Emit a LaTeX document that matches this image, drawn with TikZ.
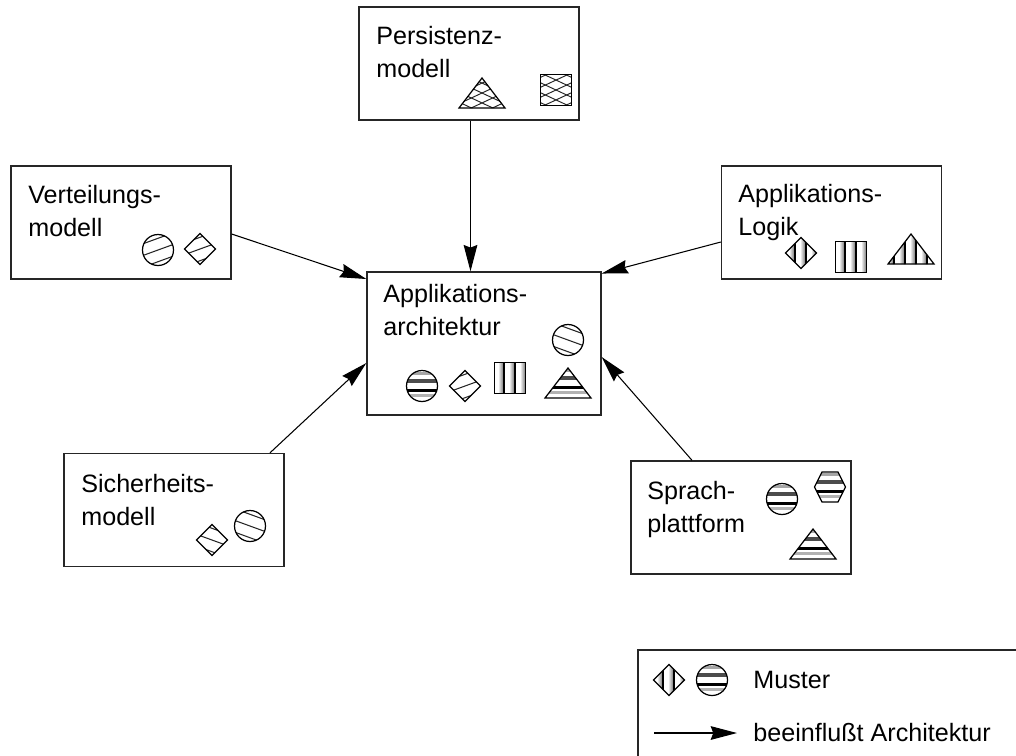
\documentclass[tikz,border=0pt]{standalone}
\usepackage{fontspec}
\setmainfont{Liberation Sans}
\usetikzlibrary{arrows.meta}
\tikzset{
    kasten/.style={draw=black!85, line width=0.8pt, minimum width=4.4cm, minimum height=2.26cm, inner sep=0pt},
    beschriftung/.style={anchor=north west, align=left, inner sep=0pt, font=\fontsize{14.3}{18.7}\selectfont},
    pfeil/.style={line width=0.6pt, -{Stealth[length=15pt, width=7.8pt, inset=1.5pt]}},
    form/.style={line width=0.7pt}
}
% Umrisse
\newcommand{\kreisform}{(0,0) circle (15.5)}
\newcommand{\rautenform}{(-15.5,0) -- (0,-15.5) -- (15.5,0) -- (0,15.5) -- cycle}
\newcommand{\quadratform}{(-15.5,-15.5) rectangle (15.5,15.5)}
\newcommand{\dreieckform}{(-23,15) -- (0,-15) -- (23,15) -- cycle}
\newcommand{\sechseckform}{(-15.5,0) -- (-8,-15) -- (8,-15) -- (15.5,0) -- (8,15) -- (-8,15) -- cycle}
% Fuellungen
\newcommand{\querfuell}{
    \fill[black!35] (-25,-14) rectangle (25,-11);
    \fill[black!70] (-25,-7.5) rectangle (25,-3.5);
    \fill[black] (-25,3) rectangle (25,6);
    \fill[black!30] (-25,7.5) rectangle (25,11);
}
\newcommand{\laengsfuell}{
    \foreach \x in {-17,-6,5,16} {
        \shade[left color=white, right color=black!60] (\x-6,-17) rectangle (\x,17);
        \draw[line width=0.9pt] (\x,-17) -- (\x,17);
    }
}
\newcommand{\schraegfuell}[1]{
    \foreach \y in {-11,0,11} {
        \draw[black!85, line width=0.6pt, rotate=#1] (-25,\y) -- (25,\y);
    }
}
\newcommand{\kreuzfuell}{
    \foreach \y in {-27,-18,-9,0,9,18,27} {
        \draw[black!85, line width=0.55pt, rotate=25] (-36,\y) -- (36,\y);
        \draw[black!85, line width=0.55pt, rotate=-25] (-36,\y) -- (36,\y);
    }
}
\newcommand{\muster}[4]{
    \begin{scope}[shift={(#1,#2)}]
        \begin{scope}
            \clip #3;
            #4
        \end{scope}
        \draw[form] #3;
    \end{scope}
}

\begin{document}
\begin{tikzpicture}[x=0.02cm, y=-0.02cm]
    \useasboundingbox (0,0) rectangle (1016,755);
    \node[kasten] (persistenz) at (469,63.5) {};
    \node[kasten] (verteilung) at (121,222.5) {};
    \node[kasten] (logik) at (831.5,222.5) {};
    \node[kasten, minimum width=4.68cm, minimum height=2.86cm] (architektur) at (484,343.5) {};
    \node[kasten] (sicherheit) at (174,510) {};
    \node[kasten] (plattform) at (741,517.5) {};

    \node[beschriftung] (tpersistenz) at (376,26) {Persistenz-\\modell};
    \node[beschriftung] (tverteilung) at (28,185) {Verteilungs-\\modell};
    \node[beschriftung] (tlogik) at (738,184) {Applikations-\\Logik};
    \node[beschriftung] (tarchitektur) at (383,284) {Applikations-\\architektur};
    \node[beschriftung] (tsicherheit) at (81,474) {Sicherheits-\\modell};
    \node[beschriftung] (tplattform) at (647,481) {Sprach-\\plattform};

    \draw[pfeil] (persistenz.south -| 470.5,0) -- (architektur.north -| 470.5,0);
    \draw[pfeil] ([shift={(0,11.5)}]verteilung.east) -- ([shift={(0,-64.5)}]architektur.west);
    \draw[pfeil] ([shift={(0,19.5)}]logik.west) -- ([shift={(0,-70)}]architektur.east);
    \draw[pfeil] ([shift={(96,0)}]sicherheit.north) -- ([shift={(0,19.5)}]architektur.west);
    \draw[pfeil] ([shift={(-49,0)}]plattform.north) -- ([shift={(0,13.5)}]architektur.east);

    \muster{482}{93}{\dreieckform}{\kreuzfuell}
    \muster{556}{90}{\quadratform}{\kreuzfuell}

    \muster{158}{250}{\kreisform}{\schraegfuell{20}}
    \muster{200}{249}{\rautenform}{\schraegfuell{20}}

    \muster{801}{253}{\rautenform}{\laengsfuell}
    \muster{851}{257}{\quadratform}{\laengsfuell}
    \muster{911}{249}{\dreieckform}{\laengsfuell}

    \muster{568}{340}{\kreisform}{\schraegfuell{-20}}
    \muster{422}{386}{\kreisform}{\querfuell}
    \muster{465}{386}{\rautenform}{\schraegfuell{20}}
    \muster{510}{378}{\quadratform}{\laengsfuell}
    \muster{568}{383}{\dreieckform}{\querfuell}

    \muster{212}{540}{\rautenform}{\schraegfuell{-20}}
    \muster{250}{526}{\kreisform}{\schraegfuell{-20}}

    \muster{782}{499}{\kreisform}{\querfuell}
    \muster{830}{487}{\sechseckform}{\querfuell}
    \muster{813}{544}{\dreieckform}{\querfuell}

    % Legende
    \draw[draw=black!85, line width=0.8pt] (638,760) -- (638,650) -- (1020,650);
    \muster{669}{680}{\rautenform}{\laengsfuell}
    \muster{712}{680}{\kreisform}{\querfuell}
    \coordinate (pfeilanfang) at (654,733);
    \coordinate (pfeilende) at (737,733);
    \draw[pfeil] (pfeilanfang) -- (pfeilende);
    \node[beschriftung, anchor=base west] (tmuster) at (753,688) {Muster};
    \node[beschriftung, anchor=base west] (teinfluss) at (753,741) {beeinflußt Architektur};
\end{tikzpicture}
\end{document}
